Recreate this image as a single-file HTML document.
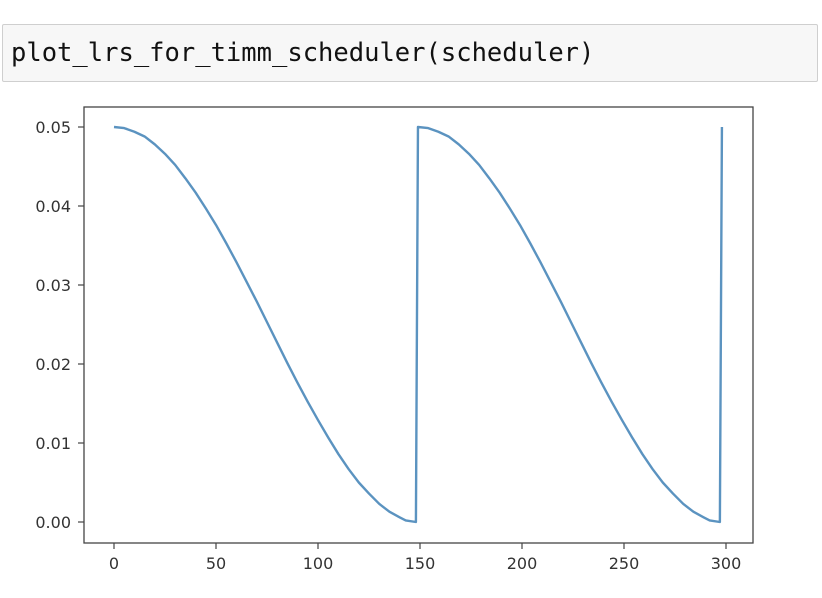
<!DOCTYPE html>
<html><head><meta charset="utf-8"><style>
body{margin:0;width:822px;height:598px;background:#fff;overflow:hidden;position:relative;font-family:"DejaVu Sans","Liberation Sans",sans-serif}
#cell{position:absolute;left:2px;top:24px;width:816px;height:58px;background:#f7f7f7;border:1px solid #cfcfcf;border-radius:2px;box-sizing:border-box}
#code{position:absolute;left:8px;top:13px;font-family:"DejaVu Sans Mono","Liberation Mono",monospace;font-size:25.5px;line-height:30px;color:#111;white-space:pre}
svg{position:absolute;left:0;top:0}
</style></head><body>
<div id="cell"><div id="code">plot_lrs_for_timm_scheduler(scheduler)</div></div>
<svg id="chart" width="822" height="598"></svg>
<script>
const epochs=[0,5,10,15,20,25,30,35,40,45,50,55,60,65,70,75,80,85,90,95,100,105,110,115,120,125,130,135,140,143,148,
149,154,159,164,169,174,179,184,189,194,199,204,209,214,219,224,229,234,239,244,249,254,259,264,269,274,279,284,289,292,297,298];
const lrs=[0.05,0.04986,0.0494,0.0488,0.0478,0.0466,0.0452,0.0435,0.0417,0.0397,0.0376,0.0353,0.0329,0.0304,0.0279,0.0253,0.0227,0.0201,0.0176,0.0152,0.0129,0.0107,0.0086,0.0067,0.005,0.0036,0.0023,0.0013,0.0006,0.0002,0.0,
0.05,0.04986,0.0494,0.0488,0.0478,0.0466,0.0452,0.0435,0.0417,0.0397,0.0376,0.0353,0.0329,0.0304,0.0279,0.0253,0.0227,0.0201,0.0176,0.0152,0.0129,0.0107,0.0086,0.0067,0.005,0.0036,0.0023,0.0013,0.0006,0.0002,0.0,0.05];
const xTicks=[0,50,100,150,200,250,300];
const yTicks=[0,0.01,0.02,0.03,0.04,0.05];
const yLabels=["0.00","0.01","0.02","0.03","0.04","0.05"];
const L=84,R=753,T=107,B=543;
const xs=v=>114+v*2.04;
const ys=v=>522-v*7900;
const NS="http://www.w3.org/2000/svg";
const svg=document.getElementById('chart');
function mk(t,a){const e=document.createElementNS(NS,t);for(const k in a)e.setAttribute(k,a[k]);svg.appendChild(e);return e;}
const frame=mk('rect',{x:L,y:T,width:R-L,height:B-T,fill:'none',stroke:'#444','stroke-width':1.3});


xTicks.forEach(v=>{
 const t=mk('line',{x1:xs(v),x2:xs(v),y1:B,y2:B+6,stroke:'#444','stroke-width':1.2});
 
 
 const l=mk('text',{x:xs(v),y:B+26,'text-anchor':'middle','font-size':16,fill:'#333'});
 l.textContent=v;
 
 
});
yTicks.forEach((v,i)=>{
 const t=mk('line',{x1:L-6,x2:L,y1:ys(v),y2:ys(v),stroke:'#444','stroke-width':1.2});
 
 
 const l=mk('text',{x:L-13,y:ys(v)+6,'text-anchor':'end','font-size':16,fill:'#333'});
 l.textContent=yLabels[i];
 
 
});
const pts=epochs.map((e,i)=>xs(e)+','+ys(lrs[i])).join(' ');
const line=mk('polyline',{points:pts,fill:'none',stroke:'#5b93c0','stroke-width':2.4,'stroke-linejoin':'round'});


</script>
</body></html>
